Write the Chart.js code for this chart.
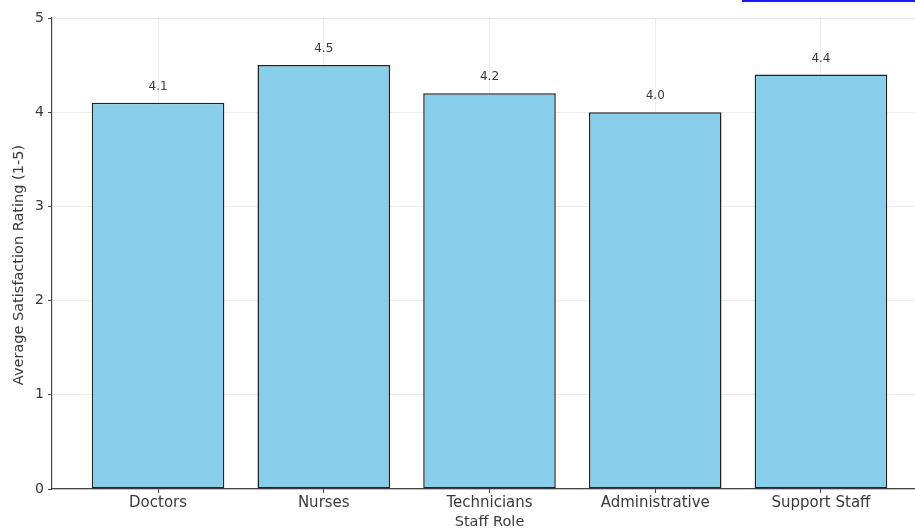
<!DOCTYPE html>
<html>
<head>
<meta charset="utf-8">
<script src="https://cdn.jsdelivr.net/npm/chart.js@4"></script>
<style>
  html, body { margin: 0; padding: 0; background: #fff; overflow: hidden; }
  #wrap { position: relative; width: 915px; height: 531px; overflow: hidden; }
  #wrap canvas { position: absolute; left: 0; top: 0; }
  .enlace { position: absolute; left: 742px; top: 0; width: 173px; height: 2px; background: #1a1aff; }
</style>
</head>
<body>
<div id="wrap">
  <canvas id="grafico" width="927" height="531"></canvas>
  <div class="enlace"></div>
</div>
<script>
// --- datos ---
const roles = ['Doctors', 'Nurses', 'Technicians', 'Administrative', 'Support Staff'];
const satisfaccion = [4.1, 4.5, 4.2, 4.0, 4.4];
const ticksY = [0, 1, 2, 3, 4, 5];

const fuente = 'DejaVu Sans, sans-serif';
const colorTexto = '#3a3a3a';

// etiquetas encima de cada barra
const etiquetasValor = {
    id: 'etiquetasValor',
    afterDatasetsDraw(chart) {
        const ctx = chart.ctx;
        const meta = chart.getDatasetMeta(0);
        ctx.save();
        ctx.font = '12px ' + fuente;
        ctx.fillStyle = colorTexto;
        ctx.textAlign = 'center';
        ctx.textBaseline = 'middle';
        meta.data.forEach((barra, i) => {
            ctx.fillText(satisfaccion[i].toFixed(1), barra.x, barra.y - 16);
        });
        ctx.restore();
    }
};

new Chart(document.getElementById('grafico'), {
    type: 'bar',
    data: {
        datasets: [{
            data: satisfaccion.map((v, i) => ({ x: i, y: v })),
            backgroundColor: '#87CEEB',
            borderColor: '#222',
            borderWidth: 1.5,
            borderSkipped: false,
            categoryPercentage: 1,
            barPercentage: 0.8
        }]
    },
    options: {
        responsive: false,
        animation: false,
        layout: { padding: { top: 18, left: 0, right: 0, bottom: 0 } },
        plugins: {
            legend: { display: false },
            tooltip: { enabled: false }
        },
        scales: {
            x: {
                type: 'linear',
                min: -0.64,
                max: 4.64,
                offset: false,
                afterFit: s => { s.height = 42; },
                afterBuildTicks: s => { s.ticks = roles.map((r, i) => ({ value: i })); },
                ticks: {
                    callback: v => roles[v],
                    color: colorTexto,
                    font: { family: fuente, size: 15 },
                    padding: 1,
                    maxRotation: 0,
                    autoSkip: false
                },
                grid: { offset: false, color: 'rgba(0,0,0,0.07)', tickColor: '#444', tickLength: 4 },
                border: { color: '#444', width: 1.2 },
                title: {
                    display: true,
                    text: 'Staff Role',
                    color: colorTexto,
                    font: { family: fuente, size: 14.5 },
                    padding: { top: 2, bottom: 0 }
                }
            },
            y: {
                min: 0,
                max: 5,
                afterFit: s => { s.width = 52; },
                afterBuildTicks: s => { s.ticks = ticksY.map(v => ({ value: v })); },
                ticks: {
                    color: colorTexto,
                    font: { family: fuente, size: 14 },
                    padding: 4
                },
                grid: { color: 'rgba(0,0,0,0.07)', tickColor: '#444', tickLength: 4 },
                border: { color: '#444', width: 1.2 },
                title: {
                    display: true,
                    // espacios al final para bajar un poco el título
                    text: 'Average Satisfaction Rating (1-5)     ',
                    color: colorTexto,
                    font: { family: fuente, size: 14.5 },
                    padding: { top: 11, bottom: 0 }
                }
            }
        }
    },
    plugins: [etiquetasValor]
});
</script>
</body>
</html>
